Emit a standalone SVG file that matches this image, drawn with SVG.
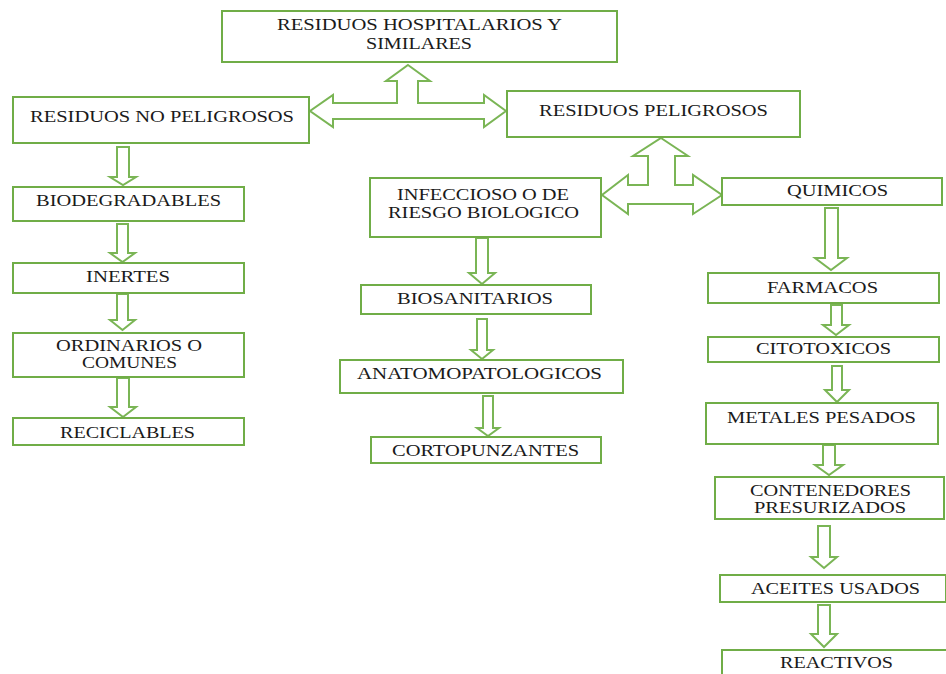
<svg xmlns="http://www.w3.org/2000/svg" width="946" height="674" viewBox="0 0 946 674">
<style>
.box{fill:#fff;stroke:#70ad47;stroke-width:2}
.arr{fill:#fff;stroke:#7ab555;stroke-width:2;stroke-linejoin:miter}
text{font-family:"Liberation Serif","Times New Roman",serif;font-size:16px;fill:#1a1a1a}
</style>
<rect width="946" height="674" fill="#fff"/>
<g id="connectors">
<polygon class="arr" points="408,65 430,81 418,81 418,103 484,103 484,95 506,111 484,127 484,119 333,119 333,127 310,111 333,95 333,103 397,103 397,81 386,81"/>
<polygon class="arr" points="661,138 688,156 675,156 675,185 693,185 693,175 722,195 693,214 693,204 628,204 628,214 602,195 628,175 628,185 648,185 648,156 633,156"/>
<polygon class="arr" points="117,147 129,147 129,177 136,177 123,185 110,177 117,177"/>
<polygon class="arr" points="117,224 128,224 128,253 135,253 122.5,262 110,253 117,253"/>
<polygon class="arr" points="117,294 128,294 128,320 135,320 122.5,330 110,320 117,320"/>
<polygon class="arr" points="117,378 129,378 129,407 136,407 123,417 110,407 117,407"/>
<polygon class="arr" points="476,238 488,238 488,273 495,273 482,284 469,273 476,273"/>
<polygon class="arr" points="477,319 487,319 487,350 493,350 482,359 471,350 477,350"/>
<polygon class="arr" points="483,396 493,396 493,428 499,428 488,436 477,428 483,428"/>
<polygon class="arr" points="825,208 838,208 838,258 847,258 831,270 815,258 825,258"/>
<polygon class="arr" points="831,305 842,305 842,325 849,325 836,335 823,325 831,325"/>
<polygon class="arr" points="832,366 842,366 842,390 849,390 837,402 825,390 832,390"/>
<polygon class="arr" points="823,445 835,445 835,465 843,465 829,475 815,465 823,465"/>
<polygon class="arr" points="818,526 830,526 830,557 837,557 824,568 811,557 818,557"/>
<polygon class="arr" points="818,605 830,605 830,634 837,634 824,647 811,634 818,634"/>
</g>
<g id="n-hospitalarios">
<rect class="box" x="222" y="11" width="395" height="51"/>
<text x="277" y="30" textLength="285" lengthAdjust="spacingAndGlyphs">RESIDUOS HOSPITALARIOS Y</text>
<text x="366" y="49" textLength="106" lengthAdjust="spacingAndGlyphs">SIMILARES</text>
</g>
<g id="n-no-peligrosos">
<rect class="box" x="13" y="97" width="296" height="46"/>
<text x="30" y="122" textLength="264" lengthAdjust="spacingAndGlyphs">RESIDUOS NO PELIGROSOS</text>
</g>
<g id="n-peligrosos">
<rect class="box" x="507" y="91" width="293" height="46"/>
<text x="539" y="116" textLength="229" lengthAdjust="spacingAndGlyphs">RESIDUOS PELIGROSOS</text>
</g>
<g id="n-biodegradables">
<rect class="box" x="13" y="187" width="231" height="34"/>
<text x="36" y="206" textLength="185" lengthAdjust="spacingAndGlyphs">BIODEGRADABLES</text>
</g>
<g id="n-inertes">
<rect class="box" x="13" y="263" width="231" height="30"/>
<text x="86" y="282" textLength="84" lengthAdjust="spacingAndGlyphs">INERTES</text>
</g>
<g id="n-ordinarios">
<rect class="box" x="13" y="333" width="231" height="44"/>
<text x="56" y="351" textLength="146" lengthAdjust="spacingAndGlyphs">ORDINARIOS O</text>
<text x="82" y="368" textLength="95" lengthAdjust="spacingAndGlyphs">COMUNES</text>
</g>
<g id="n-reciclables">
<rect class="box" x="13" y="418" width="231" height="27"/>
<text x="60" y="438" textLength="135" lengthAdjust="spacingAndGlyphs">RECICLABLES</text>
</g>
<g id="n-infeccioso">
<rect class="box" x="370" y="178" width="231" height="59"/>
<text x="397" y="200" textLength="172" lengthAdjust="spacingAndGlyphs">INFECCIOSO O DE</text>
<text x="388" y="218" textLength="191" lengthAdjust="spacingAndGlyphs">RIESGO BIOLOGICO</text>
</g>
<g id="n-biosanitarios">
<rect class="box" x="361" y="285" width="230" height="29"/>
<text x="397" y="304" textLength="156" lengthAdjust="spacingAndGlyphs">BIOSANITARIOS</text>
</g>
<g id="n-anatomopatologicos">
<rect class="box" x="340" y="360" width="283" height="33"/>
<text x="357" y="379" textLength="245" lengthAdjust="spacingAndGlyphs">ANATOMOPATOLOGICOS</text>
</g>
<g id="n-cortopunzantes">
<rect class="box" x="371" y="437" width="230" height="26"/>
<text x="392" y="456" textLength="187" lengthAdjust="spacingAndGlyphs">CORTOPUNZANTES</text>
</g>
<g id="n-quimicos">
<rect class="box" x="722" y="178" width="220" height="27"/>
<text x="787" y="196" textLength="101" lengthAdjust="spacingAndGlyphs">QUIMICOS</text>
</g>
<g id="n-farmacos">
<rect class="box" x="708" y="273" width="231" height="30"/>
<text x="767" y="293" textLength="111" lengthAdjust="spacingAndGlyphs">FARMACOS</text>
</g>
<g id="n-citotoxicos">
<rect class="box" x="708" y="337" width="231" height="25"/>
<text x="756" y="354" textLength="135" lengthAdjust="spacingAndGlyphs">CITOTOXICOS</text>
</g>
<g id="n-metales">
<rect class="box" x="706" y="403" width="232" height="41"/>
<text x="727" y="423" textLength="189" lengthAdjust="spacingAndGlyphs">METALES PESADOS</text>
</g>
<g id="n-contenedores">
<rect class="box" x="715" y="477" width="229" height="42"/>
<text x="750" y="496" textLength="161" lengthAdjust="spacingAndGlyphs" font-size="15">CONTENEDORES</text>
<text x="754" y="513" textLength="152" lengthAdjust="spacingAndGlyphs" font-size="15">PRESURIZADOS</text>
</g>
<g id="n-aceites">
<rect class="box" x="720" y="575" width="226" height="27"/>
<text x="751" y="594" textLength="169" lengthAdjust="spacingAndGlyphs">ACEITES USADOS</text>
</g>
<g id="n-reactivos">
<rect class="box" x="722" y="650" width="226" height="30"/>
<text x="780" y="668" textLength="113" lengthAdjust="spacingAndGlyphs">REACTIVOS</text>
</g>
</svg>
